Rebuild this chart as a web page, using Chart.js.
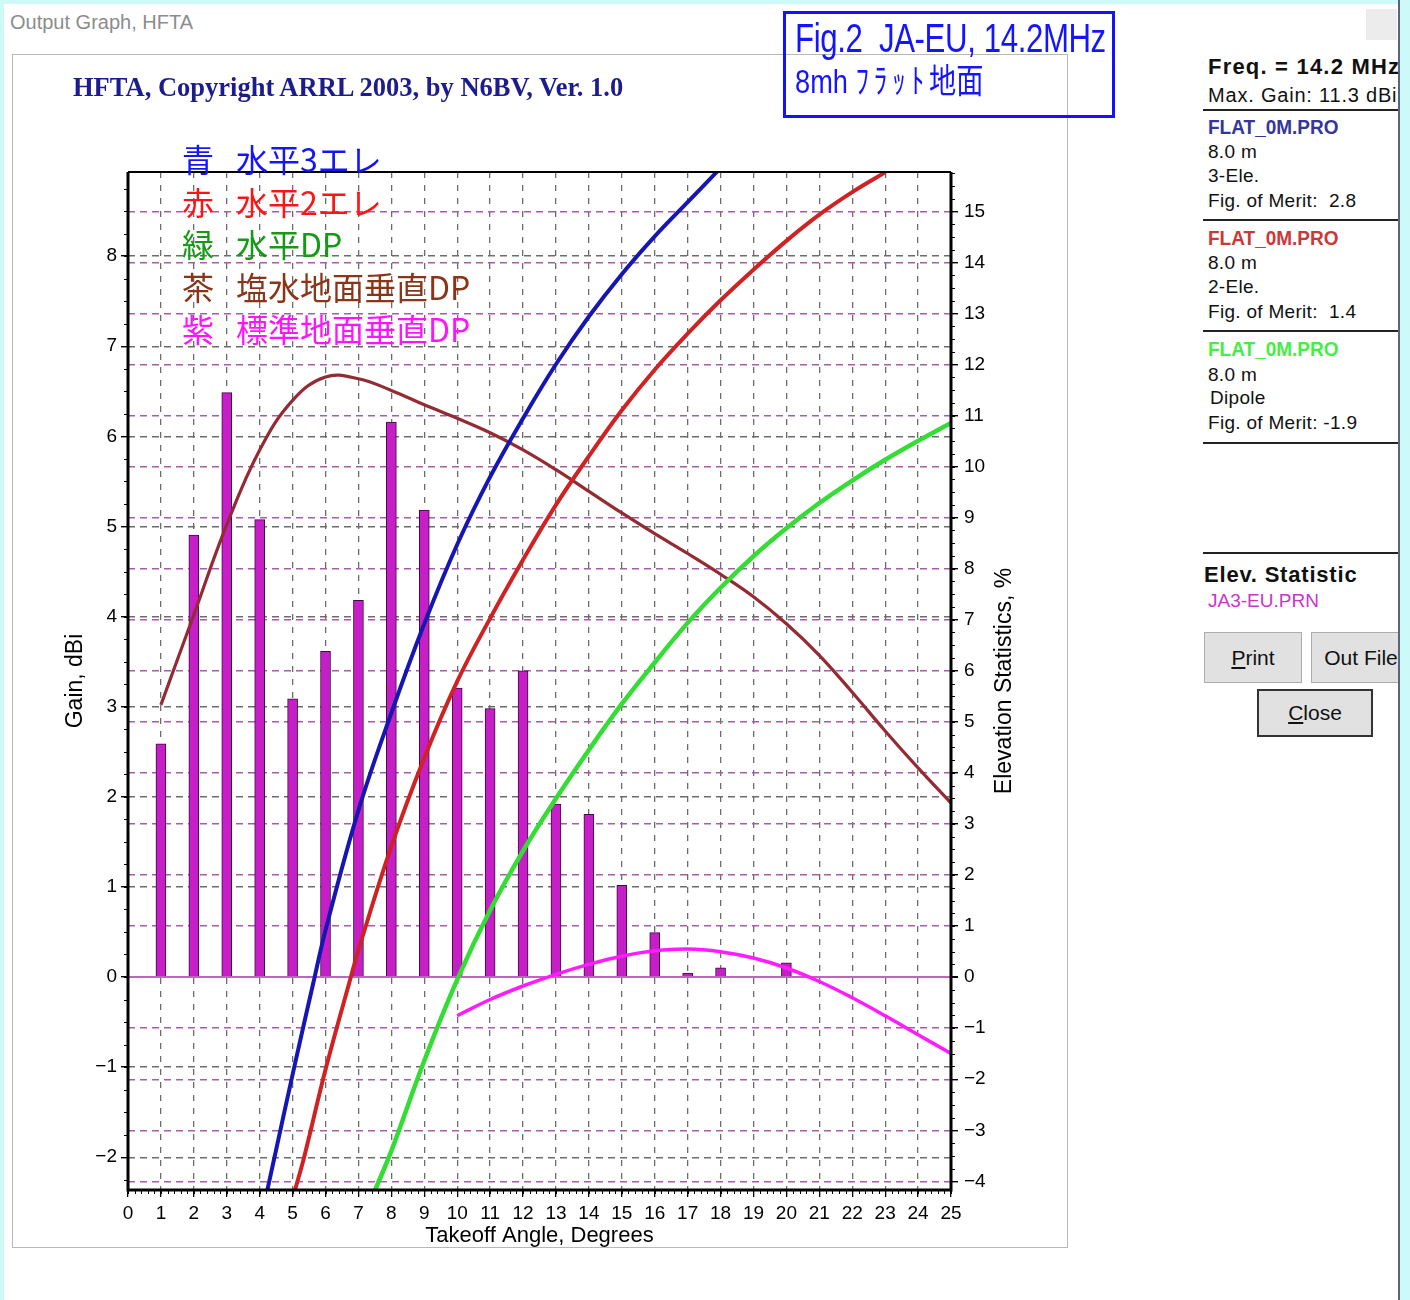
<!DOCTYPE html>
<html lang="ja">
<head>
<meta charset="utf-8">
<title>Output Graph, HFTA</title>
<script src="https://cdn.jsdelivr.net/npm/chart.js@4.4.1/dist/chart.umd.min.js"></script>
<style>
	html, body { margin: 0; padding: 0; background: #fff; }
	body { width: 1410px; height: 1300px; position: relative; overflow: hidden; font-family: 'Liberation Sans', Arial, sans-serif; color: #111; }
	.abs { position: absolute; white-space: nowrap; }
	#edgeL { left: 0; top: 0; width: 4px; height: 1300px; background: #cdf9f9; }
	#edgeT { left: 0; top: 0; width: 1410px; height: 4px; background: #cdf9f9; }
	#edgeR { left: 1398px; top: 0; width: 12px; height: 1300px; background: #cdf9f9; border-left: 2px solid #56677a; box-sizing: border-box; }
	#winTitle { left: 10px; top: 10px; font-size: 20px; color: #8c8c8c; line-height: 24px; }
	#winBtn { left: 1366px; top: 9px; width: 31px; height: 31px; background: #ececec; }
	#panel { left: 12px; top: 54px; width: 1056px; height: 1194px; border: 1px solid #b8b8b8; box-sizing: border-box; }
	#panel canvas { position: absolute; left: 0; top: 0; }
	#hfta { left: 73px; top: 71px; font-family: 'Liberation Serif', 'Times New Roman', serif; font-weight: bold; font-size: 26.5px; color: #1c1c8c; line-height: 32px; }
	.lg { font-family: 'Noto Sans CJK JP', sans-serif; font-size: 32px; line-height: 36px; }
	#fig { left: 783px; top: 11px; width: 332px; height: 107px; border: 3px solid #1212ff; box-sizing: border-box; }
	.fig { color: #1414ff; transform-origin: 0 50%; line-height: 40px; }
	#fig1 { left: 795px; top: 18px; font-size: 40px; transform: scaleX(0.78); letter-spacing: -0.5px; }
	#fig2 { left: 795px; top: 59px; font-size: 34px; transform: scaleX(0.8); font-family: 'Liberation Sans', 'Noto Sans CJK JP', sans-serif; }
	#fig2 .kana { font-family: 'Noto Sans CJK JP', sans-serif; letter-spacing: 6px; }
	#side { left: 1190px; top: 0; width: 208px; height: 1300px; overflow: hidden; }
	#side .abs { line-height: 24px; }
	.t19 { font-size: 19px; letter-spacing: 0.3px; }
	.pro { font-size: 20px; font-weight: bold; transform: scaleX(0.95); transform-origin: 0 50%; }
	.hr { left: 13px; width: 200px; height: 2px; background: #222; }
	.btn { background: #e1e1e1; border: 1px solid #adadad; box-sizing: border-box; font-size: 21px; text-align: center; }
	.btn u { text-decoration: underline; }
</style>
</head>
<body>
<div id="edgeL" class="abs"></div>
<div id="edgeT" class="abs"></div>
<div id="winTitle" class="abs">Output Graph, HFTA</div>

<div id="panel" class="abs"><canvas id="chart" width="1054" height="1192"></canvas></div>
<div id="hfta" class="abs">HFTA, Copyright ARRL 2003, by N6BV, Ver. 1.0</div>
<div id="legendBox"></div>

<div id="fig" class="abs"></div>
<div id="fig1" class="abs fig">Fig.2&nbsp; JA-EU, 14.2MHz</div>
<div id="fig2" class="abs fig">8mh <span class="kana">ﾌﾗｯﾄ</span>地面</div>

<div id="side" class="abs">
	<div class="abs" style="left:18px;top:55px;font-size:22px;font-weight:bold;letter-spacing:1.2px;">Freq. = 14.2 MHz</div>
	<div class="abs" style="left:18px;top:83px;font-size:20px;letter-spacing:0.8px;">Max. Gain: 11.3 dBi</div>
	<div class="abs hr" style="top:109px;"></div>
	<div class="abs pro" style="left:18px;top:115px;color:#35359a;">FLAT_0M.PRO</div>
	<div class="abs t19" style="left:18px;top:140px;">8.0 m</div>
	<div class="abs t19" style="left:18px;top:164px;">3-Ele.</div>
	<div class="abs t19" style="left:18px;top:189px;">Fig. of Merit:&nbsp; 2.8</div>
	<div class="abs hr" style="top:219px;"></div>
	<div class="abs pro" style="left:18px;top:226px;color:#cc3838;">FLAT_0M.PRO</div>
	<div class="abs t19" style="left:18px;top:251px;">8.0 m</div>
	<div class="abs t19" style="left:18px;top:275px;">2-Ele.</div>
	<div class="abs t19" style="left:18px;top:300px;">Fig. of Merit:&nbsp; 1.4</div>
	<div class="abs hr" style="top:330px;"></div>
	<div class="abs pro" style="left:18px;top:337px;color:#44ee44;">FLAT_0M.PRO</div>
	<div class="abs t19" style="left:18px;top:363px;">8.0 m</div>
	<div class="abs t19" style="left:20px;top:386px;">Dipole</div>
	<div class="abs t19" style="left:18px;top:411px;">Fig. of Merit: -1.9</div>
	<div class="abs hr" style="top:442px;"></div>
	<div class="abs hr" style="top:552px;"></div>
	<div class="abs" style="left:14px;top:563px;font-size:22px;font-weight:bold;letter-spacing:0.8px;">Elev. Statistic</div>
	<div class="abs" style="left:18px;top:589px;font-size:19px;color:#cc33cc;">JA3-EU.PRN</div>
	<div class="abs btn" style="left:14px;top:632px;width:98px;height:51px;line-height:49px;"><u>P</u>rint</div>
	<div class="abs btn" style="left:121px;top:632px;width:100px;height:51px;line-height:49px;">Out File</div>
	<div class="abs btn" style="left:67px;top:689px;width:116px;height:48px;line-height:44px;border:2px solid #333;"><u>C</u>lose</div>
</div>
<div id="winBtn" class="abs"></div>
<div id="edgeR" class="abs"></div>

<script>
'use strict'

// axis ranges: gain (dBi, left), elevation statistics (%, right)
const angleRange = [0, 25]
const gainRange = [-2.364, 8.934]
const statRange = [-4.17, 15.77]

// elevation statistics JA-EU, % per degree (bars)
const statAngles = [1, 2, 3, 4, 5, 6, 7, 8, 9, 10, 11, 12, 13, 14, 15, 16, 17, 18, 20]
const statPercent = [4.57, 8.66, 11.45, 8.96, 5.45, 6.38, 7.38, 10.87, 9.15, 5.66, 5.26, 6.0, 3.39, 3.19, 1.80, 0.87, 0.08, 0.18, 0.28]

// blue: horizontal 3-ele yagi
const ele3Angles = [4.23, 4.45, 5.05, 5.67, 6, 7, 8, 9, 10, 11, 12, 13, 14, 15, 16, 17, 17.9]
const ele3Gain = [-2.37, -2.0, -1.0, 0, 0.52, 1.85, 2.93, 3.92, 4.8, 5.55, 6.2, 6.8, 7.33, 7.8, 8.22, 8.6, 8.94]

// red: horizontal 2-ele yagi
const ele2Angles = [5.07, 5.35, 6.02, 6.77, 7, 8, 9, 10, 11, 12, 13, 14, 15, 16, 17, 18, 19, 20, 21, 22, 23]
const ele2Gain = [-2.37, -2.0, -1.0, 0, 0.3, 1.45, 2.43, 3.28, 3.98, 4.63, 5.24, 5.78, 6.29, 6.74, 7.14, 7.51, 7.85, 8.17, 8.46, 8.71, 8.93]

// green: horizontal dipole
const dpAngles = [7.5, 8, 9, 10, 11, 12, 13, 14, 15, 16, 17, 18, 19, 20, 21, 22, 23, 24, 25]
const dpGain = [-2.37, -1.93, -0.93, -0.03, 0.74, 1.4, 1.98, 2.52, 3.03, 3.49, 3.93, 4.32, 4.67, 4.98, 5.26, 5.51, 5.74, 5.95, 6.15]

// brown: vertical dipole over salt water
const vSeaAngles = [1, 2, 3, 4, 5, 6, 7, 8, 9, 10, 11, 12, 13, 14, 15, 16, 17, 18, 19, 20, 21, 22, 23, 24, 25]
const vSeaGain = [3.02, 4.02, 5.02, 5.85, 6.4, 6.66, 6.64, 6.51, 6.35, 6.2, 6.04, 5.85, 5.63, 5.39, 5.15, 4.92, 4.7, 4.47, 4.22, 3.92, 3.57, 3.16, 2.73, 2.32, 1.93]

// magenta: vertical dipole over average ground
const vGndAngles = [10, 11, 12, 13, 14, 15, 16, 17, 18, 19, 20, 21, 22, 23, 24, 25]
const vGndGain = [-0.43, -0.25, -0.1, 0.03, 0.14, 0.23, 0.29, 0.31, 0.28, 0.21, 0.1, -0.05, -0.23, -0.43, -0.64, -0.85]

// japanese legend written in the plot
const legendKeys = ['青', '赤', '緑', '茶', '紫']
const legendNames = ['水平3エレ', '水平2エレ', '水平DP', '塩水地面垂直DP', '標準地面垂直DP']
const legendColors = ['#1414ff', '#ff1414', '#169a16', '#8a3418', '#ff14ff']

const legendBox = document.getElementById('legendBox')
legendKeys.forEach((k, i) => {
	const top = 140 + i * 42.5
	const a = document.createElement('div')
	a.className = 'abs lg'
	a.style.left = '182px'
	a.style.top = top + 'px'
	a.style.color = legendColors[i]
	a.textContent = k
	const b = a.cloneNode()
	b.style.left = '236px'
	b.textContent = legendNames[i]
	legendBox.appendChild(a)
	legendBox.appendChild(b)
})

const pts = (xs, ys) => xs.map((x, i) => ({x: x, y: ys[i]}))

const line = (label, xs, ys, color, width) => ({
	type: 'line',
	label: label,
	data: pts(xs, ys),
	yAxisID: 'yL',
	borderColor: color,
	borderWidth: width,
	pointRadius: 0,
	fill: false,
	tension: 0.4,
	clip: 0,
	order: 1,
})

const tickFont = {family: "'Liberation Sans Narrow', 'Liberation Sans', sans-serif", size: 19}
const titleFont = {family: "'Liberation Sans', Arial, sans-serif", size: 23}
const minus = v => v < 0 ? '\u2212' + Math.abs(v) : String(v)
const isZero = c => c.tick && c.tick.value === 0

// thick black frame around the plot
const framePlugin = {
	id: 'frame',
	afterDatasetsDraw(chart) {
		const {ctx, chartArea: a} = chart
		ctx.save()
		ctx.strokeStyle = '#000'
		ctx.lineWidth = 3
		ctx.beginPath()
		ctx.moveTo(a.left, a.top)
		ctx.lineTo(a.left, a.bottom)
		ctx.lineTo(a.right, a.bottom)
		ctx.lineTo(a.right, a.top)
		ctx.stroke()
		ctx.lineWidth = 2
		ctx.beginPath()
		ctx.moveTo(a.left, a.top)
		ctx.lineTo(a.right, a.top)
		ctx.stroke()
		ctx.restore()
	},
}

// minor ticks and the right title (reads bottom to top like the left one)
const extrasPlugin = {
	id: 'extras',
	afterDraw(chart) {
		const {ctx, chartArea: a, scales} = chart
		ctx.save()
		ctx.strokeStyle = '#000'
		ctx.lineWidth = 1
		ctx.beginPath()
		for (let i = angleRange[0] * 5; i <= angleRange[1] * 5; i++) {
			const px = Math.round(scales.x.getPixelForValue(i / 5)) + 0.5
			ctx.moveTo(px, a.bottom)
			ctx.lineTo(px, a.bottom + 4)
		}
		for (let i = Math.ceil(gainRange[0] * 4); i <= gainRange[1] * 4; i++) {
			const py = Math.round(scales.yL.getPixelForValue(i / 4)) + 0.5
			ctx.moveTo(a.left, py)
			ctx.lineTo(a.left - 4, py)
		}
		for (let i = Math.ceil(statRange[0] * 4); i <= statRange[1] * 4; i++) {
			const py = Math.round(scales.yR.getPixelForValue(i / 4)) + 0.5
			ctx.moveTo(a.right, py)
			ctx.lineTo(a.right + 4, py)
		}
		ctx.stroke()

		ctx.translate(scales.yR.left + 54, (a.top + a.bottom) / 2)
		ctx.rotate(-Math.PI / 2)
		ctx.font = titleFont.size + 'px ' + titleFont.family
		ctx.fillStyle = '#000'
		ctx.textAlign = 'center'
		ctx.textBaseline = 'middle'
		ctx.fillText('Elevation Statistics, %', 0, 0)
		ctx.restore()
	},
}

new Chart(document.getElementById('chart'), {
	type: 'line',
	data: {
		datasets: [
			line('水平3エレ', ele3Angles, ele3Gain, '#1616b2', 4),
			line('水平2エレ', ele2Angles, ele2Gain, '#d02222', 4),
			line('水平DP', dpAngles, dpGain, '#33dd33', 4.5),
			line('塩水地面垂直DP', vSeaAngles, vSeaGain, '#942a32', 3.2),
			line('標準地面垂直DP', vGndAngles, vGndGain, '#ff1cff', 3.5),
			{
				type: 'bar',
				label: 'JA3-EU.PRN',
				data: pts(statAngles, statPercent),
				yAxisID: 'yR',
				backgroundColor: '#c61fc8',
				borderColor: '#3a0c3a',
				borderWidth: 1,
				borderSkipped: 'bottom',
				barThickness: 10,
				order: 10,
			},
		],
	},
	options: {
		responsive: false,
		animation: false,
		events: [],
		layout: {padding: {top: 117, left: 0, right: 0, bottom: 0}},
		plugins: {
			legend: {display: false},
			tooltip: {enabled: false},
		},
		scales: {
			x: {
				type: 'linear',
				min: angleRange[0],
				max: angleRange[1],
				offset: false,
				ticks: {stepSize: 1, includeBounds: false, autoSkip: false, maxRotation: 0, padding: 5, color: '#000', font: tickFont},
				grid: {
					color: c => (c.tick && (c.tick.value === angleRange[0] || c.tick.value === angleRange[1])) ? 'rgba(0,0,0,0)' : '#6c6c6c',
					lineWidth: 1.3,
					offset: false,
					tickColor: '#000',
					tickLength: 7,
				},
				border: {display: false, dash: [6, 7]},
				title: {display: true, text: 'Takeoff Angle, Degrees', color: '#000', font: {family: titleFont.family, size: 22}, padding: {top: 0, bottom: -2}},
				afterFit: s => { s.height = 57 },
			},
			yL: {
				type: 'linear',
				position: 'left',
				min: gainRange[0],
				max: gainRange[1],
				ticks: {stepSize: 1, includeBounds: false, autoSkip: false, padding: 4, color: '#000', font: tickFont, callback: minus},
				grid: {color: '#6c6c6c', lineWidth: 1.4, tickColor: '#000', tickLength: 7},
				border: {display: false, dash: [7, 5]},
				title: {display: true, text: 'Gain, dBi', color: '#000', font: titleFont, padding: {top: 49, bottom: 0}},
				afterFit: s => { s.width = 115 },
			},
			yR: {
				type: 'linear',
				position: 'right',
				min: statRange[0],
				max: statRange[1],
				ticks: {stepSize: 1, includeBounds: false, autoSkip: false, padding: 6, color: '#000', font: tickFont, callback: minus},
				grid: {
					color: c => isZero(c) ? '#c462c4' : '#a85ca8',
					lineWidth: c => isZero(c) ? 2 : 1.4,
					tickColor: '#000',
					tickLength: 7,
				},
				border: {display: false, dash: c => isZero(c) ? [] : [7, 5]},
				afterFit: s => { s.width = 116 },
			},
		},
	},
	plugins: [framePlugin, extrasPlugin],
})
</script>
</body>
</html>
